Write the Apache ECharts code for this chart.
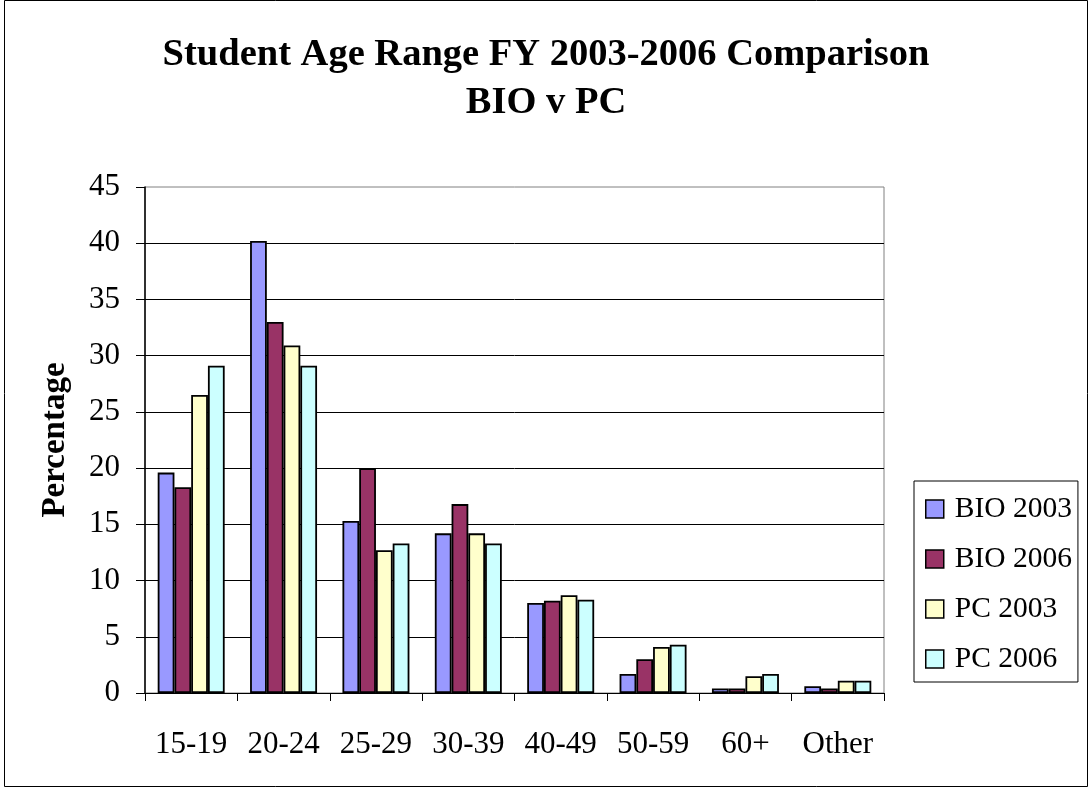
<!DOCTYPE html>
<html>
<head>
<meta charset="utf-8">
<style>
  html, body { margin: 0; padding: 0; background: #fff; }
  #chart { width: 1092px; height: 788px; }
</style>
<script src="https://cdn.jsdelivr.net/npm/echarts@6/dist/echarts.min.js"></script>
</head>
<body>
<div id="chart"></div>
<script>
// Age ranges on the category axis
const categories = ['15-19', '20-24', '25-29', '30-39', '40-49', '50-59', '60+', 'Other'];

// Percentage of students per age range
const bio2003 = [19.6, 40.2, 15.3, 14.2, 8.0, 1.7, 0.4, 0.6];
const bio2006 = [18.3, 33.0, 20.0, 16.8, 8.2, 3.0, 0.4, 0.4];
const pc2003  = [26.5, 30.9, 12.7, 14.2, 8.7, 4.1, 1.5, 1.1];
const pc2006  = [29.1, 29.1, 13.3, 13.3, 8.3, 4.3, 1.7, 1.1];

const seriesNames = ['BIO 2003', 'BIO 2006', 'PC 2003', 'PC 2006'];
const seriesData = [bio2003, bio2006, pc2003, pc2006];
const seriesColors = ['#9999FF', '#993366', '#FFFFCC', '#CCFFFF'];

const serif = '"Liberation Serif", "DejaVu Serif", serif';

const chart = echarts.init(document.getElementById('chart'), null, { renderer: 'canvas' });

chart.setOption({
  animation: false,
  backgroundColor: '#ffffff',
  textStyle: { fontFamily: serif, color: '#000' },
  title: {
    text: 'Student Age Range FY 2003-2006 Comparison\nBIO v PC',
    left: 'center',
    top: 26,
    textStyle: {
      fontFamily: serif,
      fontWeight: 'bold',
      fontSize: 38.5,
      lineHeight: 48,
      color: '#000'
    }
  },
  legend: {
    orient: 'vertical',
    left: 914,
    top: 481,
    padding: [13, 6, 8, 11],
    itemGap: 20,
    itemWidth: 18,
    itemHeight: 18,
    borderColor: '#000',
    borderWidth: 1,
    icon: 'rect',
    data: seriesNames,
    itemStyle: { borderColor: '#000', borderWidth: 1.5 },
    textStyle: { fontFamily: serif, fontSize: 29.5, lineHeight: 30, color: '#000', padding: [0, 0, 0, 6] }
  },
  grid: {
    left: 145,
    top: 187,
    width: 739,
    height: 506,
    show: true,
    borderColor: '#808080',
    borderWidth: 1,
    containLabel: false
  },
  xAxis: {
    type: 'category',
    data: categories,
    axisLine: { lineStyle: { color: '#000', width: 1 } },
    axisTick: { show: true, interval: 0, length: 8, lineStyle: { color: '#000' } },
    axisLabel: { interval: 0, fontFamily: serif, fontSize: 31, color: '#000', margin: 36 }
  },
  yAxis: {
    type: 'value',
    min: 0,
    max: 45,
    interval: 5,
    name: 'Percentage',
    nameLocation: 'middle',
    nameGap: 73,
    nameRotate: 90,
    nameTextStyle: { fontFamily: serif, fontSize: 33, fontWeight: 'bold', color: '#000' },
    axisLine: { show: true, lineStyle: { color: '#000', width: 1.5 } },
    axisTick: { show: true, length: 9, lineStyle: { color: '#000' } },
    axisLabel: { fontFamily: serif, fontSize: 31, color: '#000', margin: 25 },
    splitLine: { show: true, showMaxLine: false, lineStyle: { color: '#000', width: 1 } }
  },
  series: seriesData.map((d, i) => ({
    name: seriesNames[i],
    type: 'bar',
    data: d,
    barGap: '0%',
    barCategoryGap: '27.5%',
    itemStyle: { color: seriesColors[i], borderColor: '#000', borderWidth: 1.8 }
  })),
  graphic: [
    {
      type: 'rect',
      shape: { x: 4.5, y: 0.5, width: 1083, height: 786 },
      style: { fill: 'none', stroke: '#000', lineWidth: 1 },
      silent: true,
      z: -1
    }
  ]
});
</script>
</body>
</html>
